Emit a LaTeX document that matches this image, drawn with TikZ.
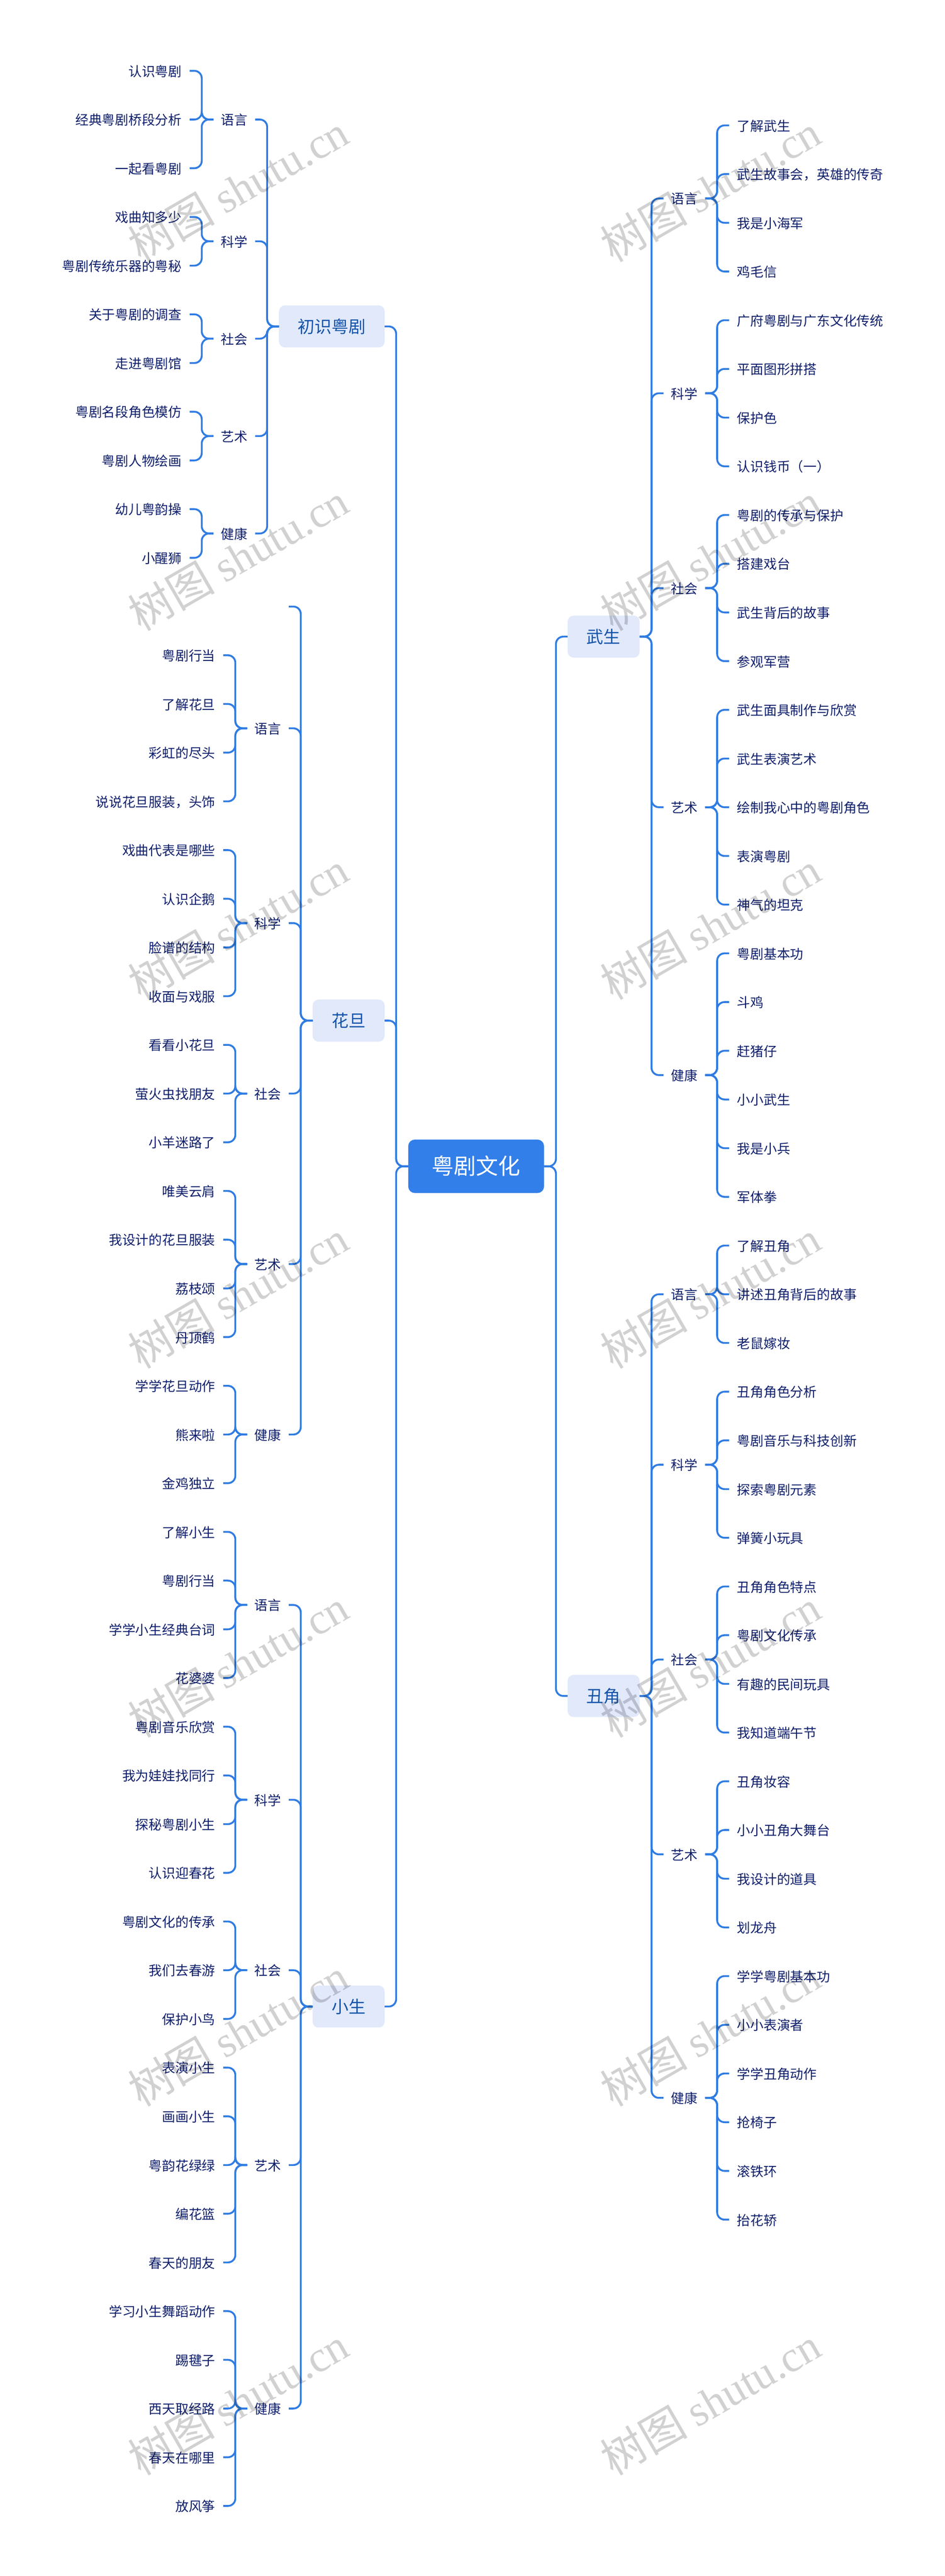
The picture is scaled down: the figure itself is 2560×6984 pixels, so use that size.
\documentclass[tikz,border=0pt]{standalone}
\usepackage{fontspec}
\setmainfont{Noto Sans CJK SC}
\newfontfamily\wmserif{Liberation Serif}
\definecolor{lineblue}{HTML}{2F7CE2}
\definecolor{rootblue}{HTML}{327FEA}
\definecolor{boxfill}{HTML}{E1E9FB}
\definecolor{boxtext}{HTML}{1454AA}
\definecolor{leaftext}{HTML}{0F1F6B}
\tikzset{
  conn/.style={draw=lineblue,line width=5pt,rounded corners=20pt},
  leafnode/.style={font=\fontsize{36}{40}\selectfont,text=leaftext,inner xsep=21.5pt,inner ysep=0pt,text height=33pt,text depth=3pt},
  catnode/.style={font=\fontsize{36}{40}\selectfont,text=leaftext,inner sep=0pt,minimum width=112.5pt,text height=33pt,text depth=3pt},
  boxnode/.style={font=\fontsize{46}{50}\selectfont,text=boxtext,fill=boxfill,rounded corners=16pt,inner sep=0pt,minimum height=114pt,text height=40.7pt,text depth=5.3pt},
  rootnode/.style={font=\fontsize{60}{64}\selectfont,text=white,fill=rootblue,rounded corners=18pt,inner sep=0pt,minimum width=368pt,minimum height=145pt,text height=52pt,text depth=8pt},
  watermark/.style={font=\fontsize{118}{124}\selectfont,text=black,text opacity=0.18,rotate=30,inner sep=0pt}
}
% left leaf: parent, name, connector end x, row, text
\newcommand\LL[5]{\node[leafnode,anchor=east] (#2) at (#3,{192+132.04*(#4)}) {#5};
  \draw[conn] (#1.west) -- ++(-32,0) |- (#2.east);}
% right leaf
\newcommand\RL[4]{\node[leafnode,anchor=west] (#2) at (1975.5,{340+132.04*(#3)}) {#4};
  \draw[conn] (#1.east) -- ++(32.5,0) |- (#2.west);}
% left category: parent box, name, centre x, row, text
\newcommand\LC[5]{\node[catnode] (#2) at (#3,{192+132.04*(#4)}) {#5};
  \draw[conn] (#1.west) -- ++(-32,0) |- (#2.east);}
% right category
\newcommand\RC[4]{\node[catnode] (#2) at (1854,{340+132.04*(#3)}) {#4};
  \draw[conn] (#1.east) -- ++(32,0) |- (#2.west);}
\begin{document}
\begin{tikzpicture}[x=1pt,y=-1pt]
\useasboundingbox (0,0) rectangle (2560,6984);
\fill[white] (0,0) rectangle (2560,6984);
% root and main branches
\node[rootnode] (root) at (1290,3162) {粤剧文化};
\node[boxnode,minimum width=286pt] (chu) at (899,885) {初识粤剧};
\node[boxnode,minimum width=195pt] (hua) at (944.5,2767) {花旦};
\node[boxnode,minimum width=195pt] (xiao) at (944.5,5440) {小生};
\node[boxnode,minimum width=195pt] (wu) at (1635.5,1726) {武生};
\node[boxnode,minimum width=195pt] (chou) at (1635.5,4598) {丑角};
\draw[conn] (root.west) -- ++(-32.5,0) |- (chu.east);
\draw[conn] (root.west) -- ++(-32.5,0) |- (hua.east);
\draw[conn] (root.west) -- ++(-32.5,0) |- (xiao.east);
\draw[conn] (root.east) -- ++(32,0) |- (wu.west);
\draw[conn] (root.east) -- ++(32,0) |- (chou.west);
% ---- chu
\LC{chu}{c1}{635}{1}{语言}
\LC{chu}{c2}{635}{3.5}{科学}
\LC{chu}{c3}{635}{5.5}{社会}
\LC{chu}{c4}{635}{7.5}{艺术}
\LC{chu}{c5}{635}{9.5}{健康}
\LL{c1}{ca}{514}{0}{认识粤剧}
\LL{c1}{cb}{514}{1}{经典粤剧桥段分析}
\LL{c1}{cc}{514}{2}{一起看粤剧}
\LL{c2}{cd}{514}{3}{戏曲知多少}
\LL{c2}{ce}{514}{4}{粤剧传统乐器的粤秘}
\LL{c3}{cf}{514}{5}{关于粤剧的调查}
\LL{c3}{cg}{514}{6}{走进粤剧馆}
\LL{c4}{ch}{514}{7}{粤剧名段角色模仿}
\LL{c4}{ci}{514}{8}{粤剧人物绘画}
\LL{c5}{cj}{514}{9}{幼儿粤韵操}
\LL{c5}{ck}{514}{10}{小醒狮}
% ---- hua
\coordinate (huastub) at (782.5,{192+132.04*11});
\draw[conn] (hua.west) -- ++(-32,0) |- (huastub);
\LC{hua}{h1}{726}{13.5}{语言}
\LC{hua}{h2}{726}{17.5}{科学}
\LC{hua}{h3}{726}{21}{社会}
\LC{hua}{h4}{726}{24.5}{艺术}
\LC{hua}{h5}{726}{28}{健康}
\LL{h1}{ha}{605}{12}{粤剧行当}
\LL{h1}{hb}{605}{13}{了解花旦}
\LL{h1}{hc}{605}{14}{彩虹的尽头}
\LL{h1}{hd}{605}{15}{说说花旦服装，头饰}
\LL{h2}{he}{605}{16}{戏曲代表是哪些}
\LL{h2}{hf}{605}{17}{认识企鹅}
\LL{h2}{hg}{605}{18}{脸谱的结构}
\LL{h2}{hh}{605}{19}{收面与戏服}
\LL{h3}{hi}{605}{20}{看看小花旦}
\LL{h3}{hj}{605}{21}{萤火虫找朋友}
\LL{h3}{hk}{605}{22}{小羊迷路了}
\LL{h4}{hl}{605}{23}{唯美云肩}
\LL{h4}{hm}{605}{24}{我设计的花旦服装}
\LL{h4}{hn}{605}{25}{荔枝颂}
\LL{h4}{ho}{605}{26}{丹顶鹤}
\LL{h5}{hp}{605}{27}{学学花旦动作}
\LL{h5}{hq}{605}{28}{熊来啦}
\LL{h5}{hr}{605}{29}{金鸡独立}
% ---- xiao
\LC{xiao}{x1}{726}{31.5}{语言}
\LC{xiao}{x2}{726}{35.5}{科学}
\LC{xiao}{x3}{726}{39}{社会}
\LC{xiao}{x4}{726}{43}{艺术}
\LC{xiao}{x5}{726}{48}{健康}
\LL{x1}{xa}{605}{30}{了解小生}
\LL{x1}{xb}{605}{31}{粤剧行当}
\LL{x1}{xc}{605}{32}{学学小生经典台词}
\LL{x1}{xd}{605}{33}{花婆婆}
\LL{x2}{xe}{605}{34}{粤剧音乐欣赏}
\LL{x2}{xf}{605}{35}{我为娃娃找同行}
\LL{x2}{xg}{605}{36}{探秘粤剧小生}
\LL{x2}{xh}{605}{37}{认识迎春花}
\LL{x3}{xi}{605}{38}{粤剧文化的传承}
\LL{x3}{xj}{605}{39}{我们去春游}
\LL{x3}{xk}{605}{40}{保护小鸟}
\LL{x4}{xl}{605}{41}{表演小生}
\LL{x4}{xm}{605}{42}{画画小生}
\LL{x4}{xn}{605}{43}{粤韵花绿绿}
\LL{x4}{xo}{605}{44}{编花篮}
\LL{x4}{xp}{605}{45}{春天的朋友}
\LL{x5}{xq}{605}{46}{学习小生舞蹈动作}
\LL{x5}{xr}{605}{47}{踢毽子}
\LL{x5}{xs}{605}{48}{西天取经路}
\LL{x5}{xt}{605}{49}{春天在哪里}
\LL{x5}{xu}{605}{50}{放风筝}
% ---- wu
\RC{wu}{w1}{1.5}{语言}
\RC{wu}{w2}{5.5}{科学}
\RC{wu}{w3}{9.5}{社会}
\RC{wu}{w4}{14}{艺术}
\RC{wu}{w5}{19.5}{健康}
\RL{w1}{wa}{0}{了解武生}
\RL{w1}{wb}{1}{武生故事会，英雄的传奇}
\RL{w1}{wc}{2}{我是小海军}
\RL{w1}{wd}{3}{鸡毛信}
\RL{w2}{we}{4}{广府粤剧与广东文化传统}
\RL{w2}{wf}{5}{平面图形拼搭}
\RL{w2}{wg}{6}{保护色}
\RL{w2}{wh}{7}{认识钱币（一）}
\RL{w3}{wi}{8}{粤剧的传承与保护}
\RL{w3}{wj}{9}{搭建戏台}
\RL{w3}{wk}{10}{武生背后的故事}
\RL{w3}{wl}{11}{参观军营}
\RL{w4}{wm}{12}{武生面具制作与欣赏}
\RL{w4}{wn}{13}{武生表演艺术}
\RL{w4}{wo}{14}{绘制我心中的粤剧角色}
\RL{w4}{wp}{15}{表演粤剧}
\RL{w4}{wq}{16}{神气的坦克}
\RL{w5}{wr}{17}{粤剧基本功}
\RL{w5}{ws}{18}{斗鸡}
\RL{w5}{wt}{19}{赶猪仔}
\RL{w5}{wu}{20}{小小武生}
\RL{w5}{wv}{21}{我是小兵}
\RL{w5}{ww}{22}{军体拳}
% ---- chou
\RC{chou}{o1}{24}{语言}
\RC{chou}{o2}{27.5}{科学}
\RC{chou}{o3}{31.5}{社会}
\RC{chou}{o4}{35.5}{艺术}
\RC{chou}{o5}{40.5}{健康}
\RL{o1}{oa}{23}{了解丑角}
\RL{o1}{ob}{24}{讲述丑角背后的故事}
\RL{o1}{oc}{25}{老鼠嫁妆}
\RL{o2}{od}{26}{丑角角色分析}
\RL{o2}{oe}{27}{粤剧音乐与科技创新}
\RL{o2}{of}{28}{探索粤剧元素}
\RL{o2}{og}{29}{弹簧小玩具}
\RL{o3}{oh}{30}{丑角角色特点}
\RL{o3}{oi}{31}{粤剧文化传承}
\RL{o3}{oj}{32}{有趣的民间玩具}
\RL{o3}{ok}{33}{我知道端午节}
\RL{o4}{ol}{34}{丑角妆容}
\RL{o4}{om}{35}{小小丑角大舞台}
\RL{o4}{on}{36}{我设计的道具}
\RL{o4}{oo}{37}{划龙舟}
\RL{o5}{op}{38}{学学粤剧基本功}
\RL{o5}{oq}{39}{小小表演者}
\RL{o5}{or}{40}{学学丑角动作}
\RL{o5}{os}{41}{抢椅子}
\RL{o5}{ot}{42}{滚铁环}
\RL{o5}{ou}{43}{抬花轿}
% watermarks
\foreach \wy [count=\i] in {510,1510,2510,3510,4510,5510,6510}{
  \node[watermark] (wml\i) at (645,\wy) {树图 {\wmserif shutu.cn}};
  \node[watermark] (wmr\i) at (1925,\wy) {树图 {\wmserif shutu.cn}};
}
\end{tikzpicture}
\end{document}
